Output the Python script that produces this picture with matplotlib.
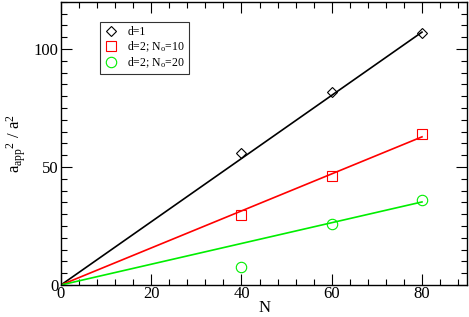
import matplotlib
matplotlib.use("Agg")
import matplotlib.pyplot as plt
import numpy as np
from matplotlib.ticker import MultipleLocator

plt.rcParams['font.family'] = ['Liberation Serif', 'DejaVu Serif']
plt.rcParams['mathtext.fontset'] = 'custom'
plt.rcParams['mathtext.rm'] = 'Liberation Serif'
plt.rcParams['mathtext.it'] = 'Liberation Serif'

N = [40, 60, 80]
d1 = [56, 82, 107]
d2_no10 = [29.5, 46, 64]
d2_no20 = [7.5, 26, 36]

fit_N = [0, 80]
slope_d1 = 1.34
slope_no10 = 0.785
slope_no20 = 0.44

labels = ['d=1', r'd=2; N$_\mathregular{o}$=10', r'd=2; N$_\mathregular{o}$=20']
colors = ['black', 'red', '#00ee00']

fig = plt.figure(figsize=(4.69, 3.17), dpi=100)
ax = fig.add_axes([0.130, 0.101, 0.866, 0.893])

series = [(d1, slope_d1, 'D', 5.5), (d2_no10, slope_no10, 's', 6.5), (d2_no20, slope_no20, 'o', 7.5)]
for (vals, slope, mk, ms), c, lab in zip(series, colors, labels):
    fx = np.array(fit_N)
    ax.plot(fx, slope * fx, color=c, lw=1.2)
    ax.plot(N, vals, linestyle='none', marker=mk, ms=ms, mfc='none', mec=c, mew=0.8, label=lab)

ax.set_xlim(0, 90)
ax.set_ylim(0, 120)
ax.xaxis.set_major_locator(MultipleLocator(20))
ax.xaxis.set_minor_locator(MultipleLocator(4))
ax.yaxis.set_major_locator(MultipleLocator(50))
ax.yaxis.set_minor_locator(MultipleLocator(5))
ax.tick_params(which='both', direction='in', top=True, right=True, labelsize=12, width=0.8)
ax.tick_params(which='major', length=8)
ax.tick_params(which='minor', length=4)
ax.tick_params(axis='x', pad=1)
ax.tick_params(axis='y', pad=2)
for s in ax.spines.values():
    s.set_linewidth(1.0)

ax.set_xlabel('N', fontsize=12, labelpad=-2)
ax.set_ylabel(r'$\mathregular{a_{app}{}^{2}\ /\ a^{2}}$', fontsize=12, labelpad=4)

leg = ax.legend(loc='upper left', bbox_to_anchor=(0.095, 0.93), fontsize=8.5, frameon=True,
                fancybox=False, edgecolor='black', handlelength=1.2, handletextpad=0.8,
                borderpad=0.35, labelspacing=0.12, borderaxespad=0)
leg.get_frame().set_linewidth(0.8)

fig.savefig('out.png', dpi=100)
